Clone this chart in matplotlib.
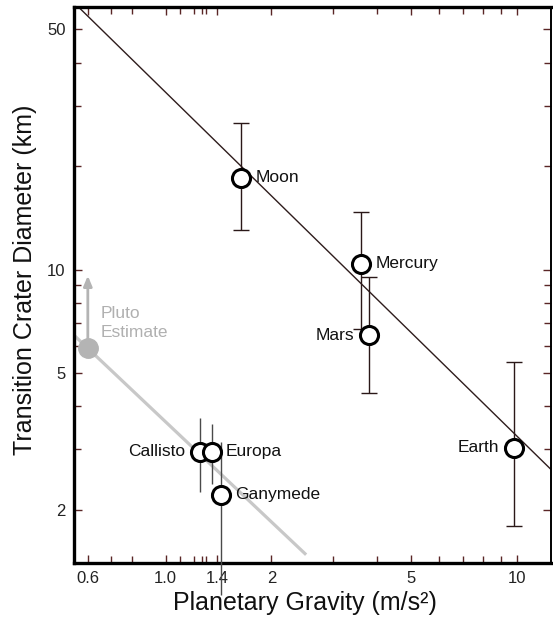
import matplotlib
matplotlib.use("Agg")
import matplotlib.pyplot as plt
from matplotlib.ticker import FixedLocator, NullFormatter, LogLocator

plt.rcParams["font.family"] = ["Liberation Sans", "DejaVu Sans"]

# crater transition diameters vs surface gravity
bodies = ["Moon", "Mercury", "Mars", "Earth", "Callisto", "Europa", "Ganymede"]
gravity = [1.64, 3.6, 3.8, 9.8, 1.25, 1.35, 1.44]
diameter = [18.5, 10.4, 6.45, 3.03, 2.95, 2.95, 2.21]
diam_hi = [26.7, 14.7, 9.5, 5.4, 3.71, 3.55, 3.16]
diam_lo = [13.0, 6.7, 4.36, 1.79, 2.25, 2.38, 1.13]
rocky = ["Moon", "Mercury", "Mars", "Earth"]
label_left = ["Mars", "Earth", "Callisto"]

# Pluto estimate (lower bound, arrow points up)
pluto_g = 0.60
pluto_d = 5.92
pluto_arrow_top = 9.6

# trend lines (endpoints in data units)
rocky_line_g = [0.55, 12.5]
rocky_line_d = [59.6, 2.62]
icy_line_g = [0.55, 2.51]
icy_line_d = [6.42, 1.48]

x_ticks = [0.6, 1.0, 1.4, 2, 5, 10]
x_tick_labels = ["0.6", "1.0", "1.4", "2", "5", "10"]
x_minor = [0.7, 0.8, 1.1, 1.2, 1.27, 1.3, 3, 4, 6, 7, 8, 9]
y_ticks = [2, 5, 10, 50]
y_tick_labels = ["2", "5", "10", "50"]

fig = plt.figure(figsize=(5.53, 6.23), dpi=100)
ax = fig.add_axes([0.1338, 0.0963, 0.8626, 0.8925])
ax.set_xscale("log")
ax.set_yscale("log")
ax.set_xlim(0.548, 12.5)
ax.set_ylim(1.40, 58.1)

ax.plot(rocky_line_g, rocky_line_d, color="#2e1c1c", lw=1.0, zorder=2)
ax.plot(icy_line_g, icy_line_d, color="#c8c8c8", lw=2.3, solid_capstyle="butt", zorder=1)

for name, g, d, hi, lo in zip(bodies, gravity, diameter, diam_hi, diam_lo):
    if name in rocky:
        ax.errorbar(g, d, yerr=[[d - lo], [hi - d]], fmt="none", ecolor="#2a1818",
                    elinewidth=1.0, capsize=6, capthick=1.0, zorder=3)
    else:
        ax.errorbar(g, d, yerr=[[d - lo], [hi - d]], fmt="none", ecolor="#4a4a4a",
                    elinewidth=1.0, capsize=0, zorder=3, clip_on=False)
    ax.plot(g, d, "o", ms=13, mfc="white", mec="black", mew=2.2, zorder=4)
    if name in label_left:
        ax.annotate(name, (g, d), xytext=(-15, 0), textcoords="offset pixels",
                    ha="right", va="center", fontsize=12.5, color="#111111")
    else:
        ax.annotate(name, (g, d), xytext=(14, 0), textcoords="offset pixels",
                    ha="left", va="center", fontsize=12.5, color="#111111")

ax.annotate("", xy=(pluto_g, pluto_arrow_top), xytext=(pluto_g, pluto_d),
            arrowprops=dict(arrowstyle="-|>,head_length=0.6,head_width=0.25",
                            color="#b4b4b4", lw=2.0, shrinkA=0, shrinkB=0), zorder=2)
ax.plot(pluto_g, pluto_d, "o", ms=14, color="#b4b4b4", zorder=3)
ax.annotate("Pluto\nEstimate", (pluto_g, pluto_d), xytext=(13, 25),
            textcoords="offset pixels", ha="left", va="center", fontsize=12.5,
            color="#b0b0b0", linespacing=1.35)

ax.xaxis.set_major_locator(FixedLocator(x_ticks))
ax.set_xticklabels(x_tick_labels)
ax.xaxis.set_minor_locator(FixedLocator(x_minor))
ax.xaxis.set_minor_formatter(NullFormatter())
ax.yaxis.set_major_locator(FixedLocator(y_ticks))
ax.set_yticklabels(y_tick_labels)
ax.yaxis.set_minor_locator(LogLocator(base=10, subs=range(1, 10)))
ax.yaxis.set_minor_formatter(NullFormatter())

ax.tick_params(which="both", direction="in", top=True, right=True,
               color="#5a2626", labelsize=12, labelcolor="#222222")
ax.tick_params(which="major", length=6, width=1.0, pad=6)
ax.tick_params(which="minor", length=5, width=1.0)

for side in ["left", "bottom", "top"]:
    ax.spines[side].set_linewidth(2.4)
ax.spines["right"].set_linewidth(1.4)

ax.set_xlabel("Planetary Gravity (m/s²)", fontsize=18, color="#111111")
ax.set_ylabel("Transition Crater Diameter (km)", fontsize=18, color="#111111")
ax.xaxis.set_label_coords(0.485, -0.05)
ax.yaxis.set_label_coords(-0.077, 0.51)

fig.savefig("out.png", dpi=100)
